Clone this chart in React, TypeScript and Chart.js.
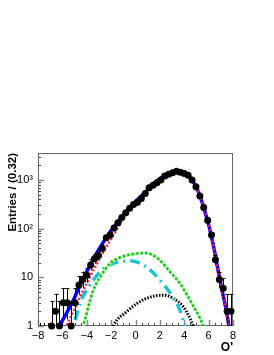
import React, { useEffect, useRef } from 'react';
import { Chart, registerables } from 'chart.js';
Chart.register(...registerables);

// Bin centres (bin width 0.32 over [-8, 8])
const binCenters = [-7.84, -7.52, -7.2, -6.88, -6.56, -6.24, -5.92, -5.6, -5.28, -4.96, -4.64, -4.32, -4.0, -3.68, -3.36, -3.04, -2.72, -2.4, -2.08, -1.76, -1.44, -1.12, -0.8, -0.48, -0.16, 0.16, 0.48, 0.8, 1.12, 1.44, 1.76, 2.08, 2.4, 2.72, 3.04, 3.36, 3.68, 4.0, 4.32, 4.64, 4.96, 5.28, 5.6, 5.92, 6.24, 6.56, 6.88, 7.2, 7.52, 7.84];
const counts = [0, 0, 0, 1, 2, 1, 3, 3, 1, 3, 7, 9, 11, 18, 24, 28, 39, 65, 74, 104, 132, 170, 213, 262, 316, 350, 418, 529, 692, 785, 877, 1000, 1205, 1320, 1410, 1520, 1450, 1365, 1260, 1000, 727, 469, 274, 150, 74, 23, 9, 6, 2, 2];

// Fit curves
const totalX = [-6.5, -6.2, -5.7, -5.2, -4.7, -4.2, -3.7, -3.2, -2.7, -2.2, -1.7, -1.2, -0.7, -0.2, 0.3, 0.8, 1.3, 1.8, 2.3, 2.8, 3.2, 3.5, 3.8, 4.1, 4.4, 4.7, 5.0, 5.3, 5.6, 5.9, 6.2, 6.5, 6.8, 7.1, 7.4, 7.67, 7.8];
const totalY = [0.5, 1, 1.75, 3.0, 5.6, 10.5, 18.2, 31, 50, 78, 115, 166, 234, 324, 427, 562, 760, 980, 1180, 1350, 1470, 1510, 1460, 1340, 1180, 950, 700, 460, 270, 150, 75, 33, 13, 5.5, 2.4, 1, 0.6];
const sigX = [-6.0, -5.65, -5.1, -4.55, -4.0, -3.46, -2.8, -2.1, -1.5, -1.0, -0.5, 0.0, 0.3, 0.8, 1.3, 1.8, 2.3, 2.8, 3.2, 3.5, 3.8, 4.1, 4.4, 4.7, 5.0, 5.3, 5.6, 5.9, 6.2, 6.5, 6.8, 7.1, 7.4, 7.67, 7.8];
const sigY = [0.5, 1, 2, 4, 7.5, 14, 28, 56, 100, 165, 245, 335, 405, 545, 745, 975, 1175, 1345, 1465, 1505, 1455, 1337, 1178, 948, 699, 459, 270, 150, 75, 33, 13, 5.5, 2.4, 1, 0.6];
const cyanX = [-5.6, -5.1, -4.5, -4.0, -3.46, -2.64, -1.82, -0.9, -0.45, 0.0, 0.64, 1.3, 2.0, 2.5, 2.97, 3.65, 3.92, 4.1, 4.4];
const cyanY = [0.5, 1, 3.2, 5.5, 8.8, 15, 19.5, 21.5, 22, 21, 18, 13.5, 8.8, 6.2, 4.3, 2.1, 1.3, 1, 0.6];
const greenX = [-4.6, -4.28, -3.46, -2.8, -2.1, -1.0, 0.1, 0.8, 1.19, 2.0, 2.83, 3.65, 4.47, 5.29, 5.56, 5.8];
const greenY = [0.5, 1, 5.5, 11, 19.4, 27, 31, 31.5, 30.5, 22.6, 13, 7.5, 3.4, 1.44, 1, 0.6];
const blackX = [-2.2, -1.82, -0.72, 0.2, 0.92, 1.6, 2.28, 3.1, 3.92, 4.47, 4.74, 5.0];
const blackY = [0.5, 1, 1.97, 3.0, 3.7, 4.15, 4.3, 3.7, 2.5, 1.44, 1, 0.6];

const xTicks = [-8, -6, -4, -2, 0, 2, 4, 6, 8];
const yTicks = [1, 10, 100, 1000];
const yTickLabels = ['1', '10', '10²', '10³'];

const FONT = "'Liberation Sans', Arial, Helvetica, sans-serif";

const pts = (xs: number[], ys: number[]) => xs.map((x, i) => ({ x, y: ys[i] }));

// Poisson 68% interval (Wilson-Hilferty approximation; exact value for n = 0)
function poissonUp(n: number) {
  if (n <= 0) return 1.148;
  const m = n + 1;
  return m * Math.pow(1 - 1 / (9 * m) + 1 / (3 * Math.sqrt(m)), 3);
}
function poissonLo(n: number) {
  if (n <= 0) return 0;
  return n * Math.pow(1 - 1 / (9 * n) - 1 / (3 * Math.sqrt(n)), 3);
}

const framePlugin = {
  id: 'frameTicks',
  beforeDatasetsDraw(chart: any) {
    const { ctx, chartArea: a, scales } = chart;
    const xs = scales.x, ys = scales.y;
    ctx.save();
    ctx.lineWidth = 1;
    for (let v = -8; v <= 8.001; v += 0.5) {
      const px = Math.round(xs.getPixelForValue(v)) + 0.5;
      const major = Math.abs(v / 2 - Math.round(v / 2)) < 1e-6;
      ctx.strokeStyle = major ? '#888' : '#444';
      ctx.lineWidth = major ? 1.5 : 1;
      ctx.beginPath();
      ctx.moveTo(px, a.bottom);
      ctx.lineTo(px, a.bottom - (major ? 6 : 3));
      ctx.stroke();
    }
    for (let d = 1; d <= 1000; d *= 10) {
      for (let m = 1; m <= 9; m++) {
        const v = d * m;
        if (v > ys.max) break;
        const py = Math.round(ys.getPixelForValue(v)) + 0.5;
        const major = m === 1;
        ctx.strokeStyle = major ? '#888' : '#444';
        ctx.lineWidth = major ? 1.5 : 1;
        ctx.beginPath();
        ctx.moveTo(a.left, py);
        ctx.lineTo(a.left + (major ? 6 : 3), py);
        ctx.stroke();
      }
    }
    ctx.strokeStyle = '#666';
    ctx.lineWidth = 1;
    ctx.strokeRect(a.left + 0.5, a.top + 0.5, a.right - a.left - 1, a.bottom - a.top - 1);
    ctx.restore();
  },
  afterDatasetsDraw(chart: any) {
    const { ctx, chartArea: a, scales } = chart;
    const xs = scales.x, ys = scales.y;
    ctx.save();
    ctx.strokeStyle = '#000';
    ctx.lineWidth = 1;
    binCenters.forEach((c, i) => {
      const n = counts[i];
      const hi = poissonUp(n);
      const lo = poissonLo(n);
      const px = Math.round(xs.getPixelForValue(c)) + 0.5;
      let yTop = Math.max(ys.getPixelForValue(hi), a.top);
      const yBot = lo >= 1 ? ys.getPixelForValue(lo) : a.bottom;
      ctx.beginPath();
      ctx.moveTo(px, yBot);
      ctx.lineTo(px, yTop);
      ctx.stroke();
      if (n > 0 && hi - n > 1.2) {
        ctx.beginPath();
        ctx.moveTo(px - 2, Math.round(yTop) + 0.5);
        ctx.lineTo(px + 2, Math.round(yTop) + 0.5);
        ctx.stroke();
      }
    });
    ctx.restore();
  },
};

export default function App() {
  const ref = useRef<HTMLCanvasElement>(null);
  useEffect(() => {
    document.body.style.margin = '0';
    const canvas = ref.current!;
    const chart = new Chart(canvas, {
      type: 'scatter',
      data: {
        datasets: [
          {
            label: 'data',
            data: binCenters.map((x, i) => ({ x, y: counts[i] > 0 ? counts[i] : null })) as any,
            pointRadius: 3.5,
            pointBackgroundColor: '#000',
            pointBorderColor: '#000',
            pointBorderWidth: 0,
            showLine: false,
            clip: false as any,
          },
          {
            label: 'signal',
            data: pts(sigX, sigY),
            showLine: true,
            borderColor: '#ff1a40',
            borderWidth: 2.5,
            borderDash: [2, 2],
            pointRadius: 0,
            cubicInterpolationMode: 'monotone',
          },
          {
            label: 'total',
            data: pts(totalX, totalY),
            showLine: true,
            borderColor: '#0000ff',
            borderWidth: 3.5,
            pointRadius: 0,
            cubicInterpolationMode: 'monotone',
          },
          {
            label: 'green dots',
            data: pts(greenX, greenY),
            showLine: true,
            borderColor: '#00c000',
            borderWidth: 2.5,
            borderDash: [2, 2.5],
            pointRadius: 0,
            cubicInterpolationMode: 'monotone',
          },
          {
            label: 'green',
            data: pts(greenX, greenY),
            showLine: true,
            borderColor: '#b4f0b4',
            borderWidth: 3,
            pointRadius: 0,
            cubicInterpolationMode: 'monotone',
          },
          {
            label: 'cyan',
            data: pts(cyanX, cyanY),
            showLine: true,
            borderColor: '#1cc4d0',
            borderWidth: 3.5,
            borderDash: [10, 5, 2, 5],
            pointRadius: 0,
            cubicInterpolationMode: 'monotone',
          },
          {
            label: 'black',
            data: pts(blackX, blackY),
            showLine: true,
            borderColor: '#000',
            borderWidth: 3,
            borderDash: [1.5, 1.5],
            pointRadius: 0,
            cubicInterpolationMode: 'monotone',
          },
        ],
      },
      options: {
        responsive: false,
        animation: false,
        devicePixelRatio: 1,
        layout: { padding: { top: 153, right: 41, left: 0, bottom: 0 } },
        plugins: { legend: { display: false }, tooltip: { enabled: false } },
        scales: {
          x: {
            type: 'linear',
            min: -8,
            max: 8,
            grid: { display: false, drawTicks: false },
            border: { display: false },
            afterBuildTicks: (s: any) => { s.ticks = xTicks.map((v) => ({ value: v })); },
            afterFit: (s: any) => { s.height = 29; },
            ticks: {
              padding: 3,
              color: '#000',
              font: { family: FONT, size: 11 },
              maxRotation: 0,
              autoSkip: false,
              callback: (v: any) => String(v).replace('-', '−'),
            },
            title: {
              display: true,
              text: "O'",
              align: 'end',
              color: '#000',
              font: { family: FONT, size: 12, weight: 'bold' },
              padding: { top: 0, bottom: 0 },
            },
          },
          y: {
            type: 'logarithmic',
            min: 1,
            max: 3600,
            grid: { display: false, drawTicks: false },
            border: { display: false },
            afterBuildTicks: (s: any) => { s.ticks = yTicks.map((v) => ({ value: v })); },
            afterFit: (s: any) => { s.width = 38; },
            ticks: {
              padding: 5,
              color: '#000',
              font: { family: FONT, size: 11 },
              autoSkip: false,
              callback: (v: any) => {
                const i = yTicks.indexOf(Number(v));
                return i >= 0 ? yTickLabels[i] : '';
              },
            },
            title: {
              display: true,
              text: 'Entries / (0.32)',
              align: 'end',
              color: '#000',
              font: { family: FONT, size: 11.5, weight: 'bold' },
              padding: { top: 6, bottom: 0 },
            },
          },
        },
      },
      plugins: [framePlugin],
    });
    return () => chart.destroy();
  }, []);
  return (
    <div style={{ position: 'absolute', left: 0, top: 0, width: 274, height: 355 }}>
      <canvas ref={ref} width={274} height={355} style={{ width: 274, height: 355 }} />
    </div>
  );
}
